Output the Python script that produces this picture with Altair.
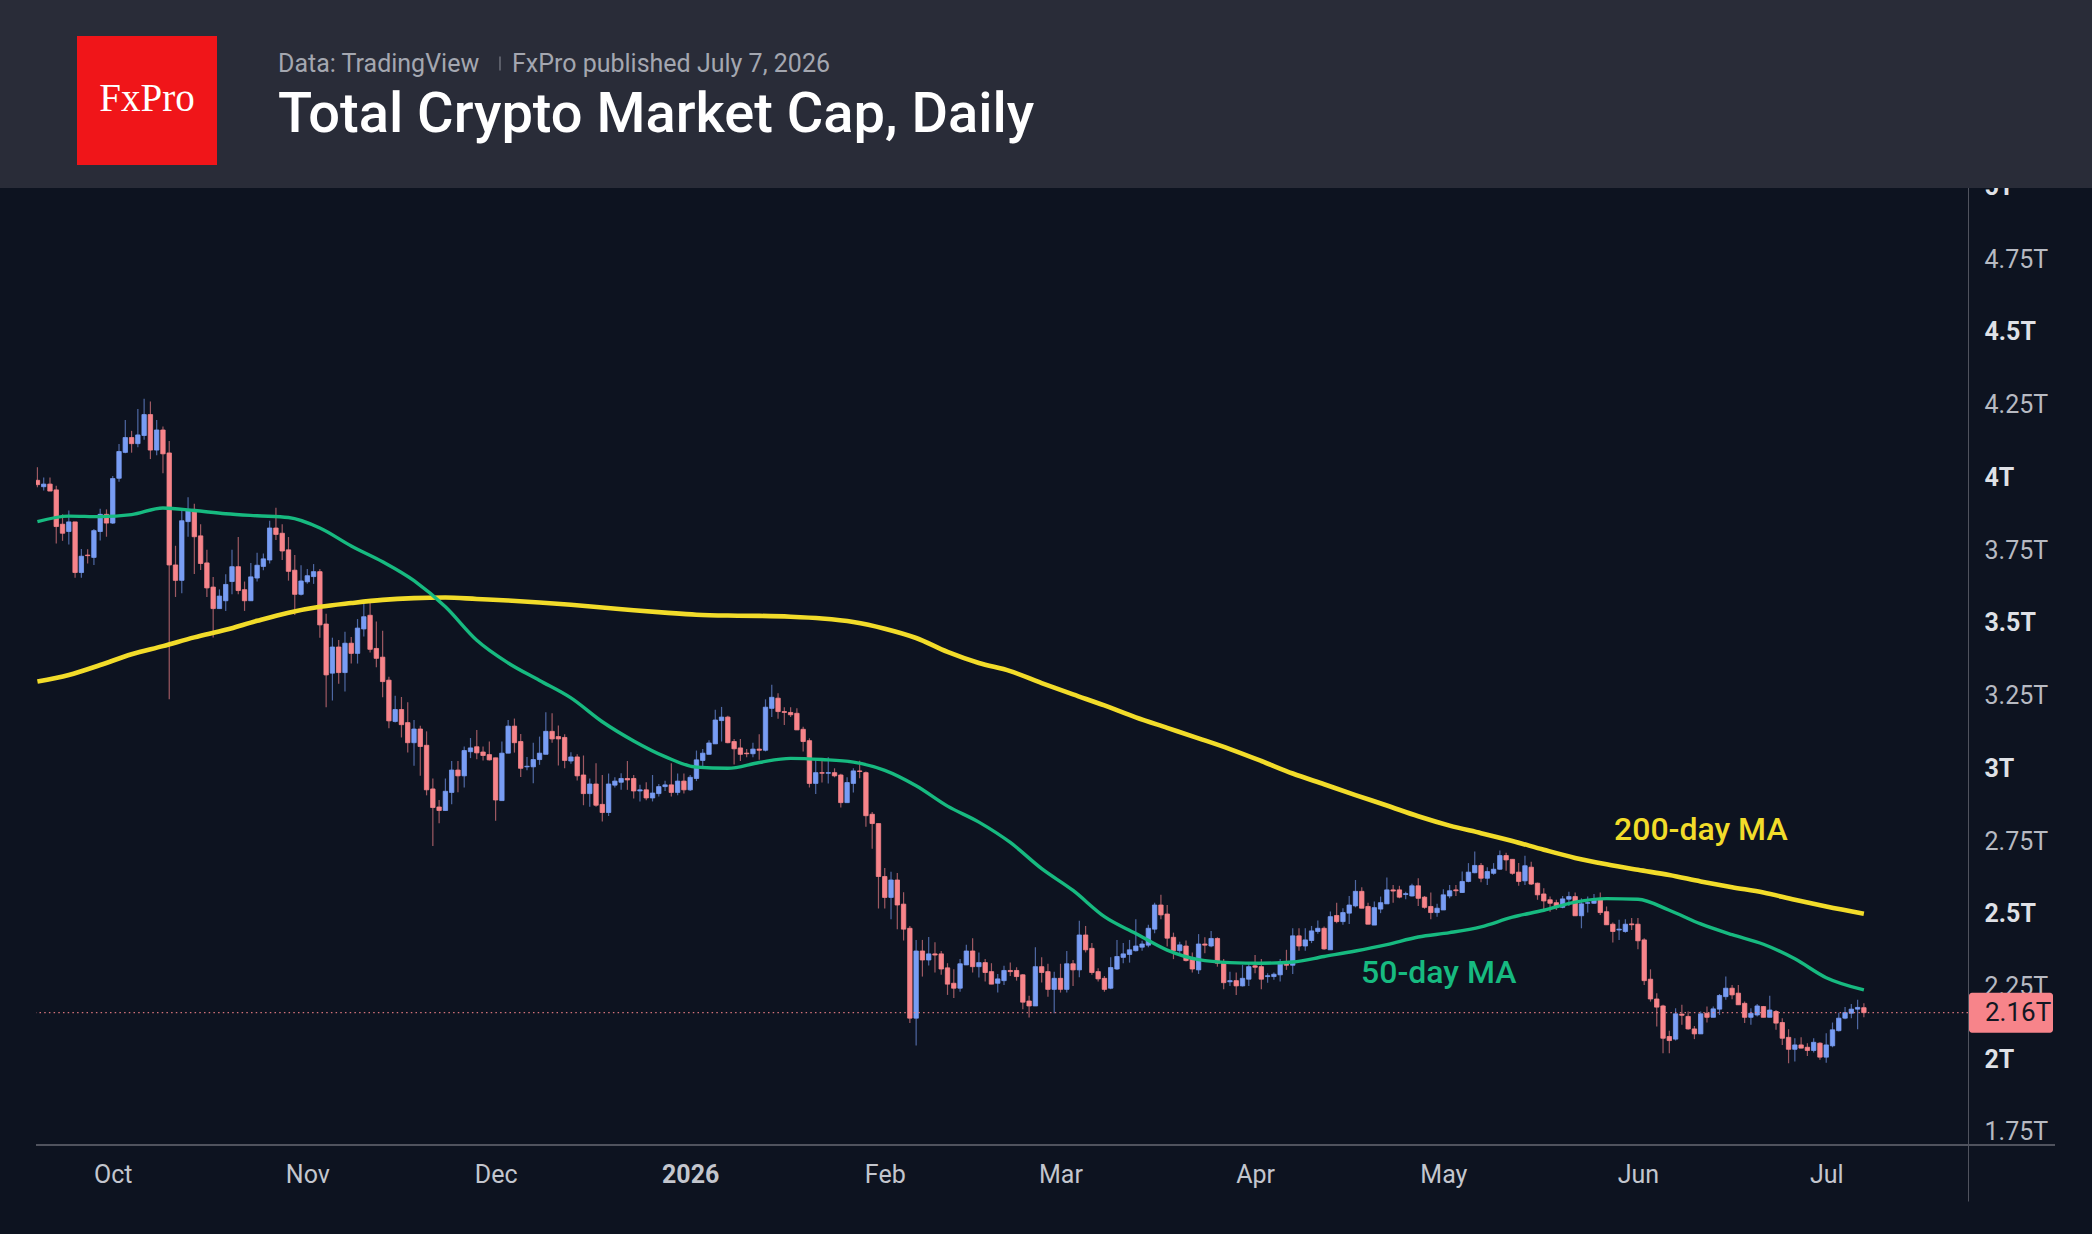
import altair as alt
import pandas as pd

# ---------------- data: total crypto market cap, daily candles (T USD) ----------------
first_day = "2025-09-19"

open_ = [
    3.990, 3.968, 3.977, 3.957, 3.839, 3.814, 3.847, 3.673, 3.733, 3.725,
    3.814, 3.873, 3.843, 3.997, 4.086, 4.137, 4.116, 4.144, 4.216, 4.094,
    4.163, 4.084, 3.699, 3.646, 3.848, 3.890, 3.799, 3.706, 3.623, 3.549,
    3.576, 3.642, 3.693, 3.614, 3.576, 3.654, 3.694, 3.716, 3.826, 3.808,
    3.751, 3.681, 3.598, 3.641, 3.659, 3.676, 3.496, 3.327, 3.417, 3.329,
    3.430, 3.395, 3.479, 3.526, 3.412, 3.382, 3.303, 3.161, 3.202, 3.157,
    3.088, 3.135, 3.079, 2.929, 2.867, 2.855, 2.917, 2.994, 2.974, 3.057,
    3.074, 3.056, 3.047, 3.036, 2.889, 3.052, 3.145, 3.092, 3.005, 3.005,
    3.030, 3.048, 3.127, 3.109, 3.106, 3.025, 3.039, 2.977, 2.913, 2.946,
    2.876, 2.848, 2.942, 2.952, 2.965, 2.965, 2.922, 2.926, 2.898, 2.913,
    2.937, 2.943, 2.917, 2.956, 2.926, 2.965, 3.027, 3.048, 3.084, 3.164,
    3.176, 3.092, 3.070, 3.052, 3.050, 3.066, 3.062, 3.206, 3.241, 3.195,
    3.192, 3.189, 3.134, 3.095, 2.948, 2.985, 2.983, 2.985, 2.977, 2.882,
    2.948, 2.991, 2.985, 2.842, 2.810, 2.628, 2.556, 2.616, 2.533, 2.450,
    2.141, 2.372, 2.341, 2.362, 2.362, 2.314, 2.261, 2.244, 2.324, 2.372,
    2.318, 2.332, 2.301, 2.261, 2.270, 2.305, 2.305, 2.290, 2.200, 2.183,
    2.318, 2.301, 2.240, 2.278, 2.240, 2.328, 2.307, 2.427, 2.381, 2.301,
    2.278, 2.244, 2.310, 2.350, 2.360, 2.373, 2.385, 2.392, 2.447, 2.530,
    2.499, 2.419, 2.373, 2.389, 2.344, 2.307, 2.396, 2.389, 2.415, 2.330,
    2.266, 2.270, 2.252, 2.275, 2.321, 2.318, 2.284, 2.284, 2.290, 2.334,
    2.323, 2.424, 2.389, 2.408, 2.439, 2.450, 2.376, 2.494, 2.473, 2.502,
    2.527, 2.577, 2.525, 2.461, 2.516, 2.534, 2.582, 2.582, 2.566, 2.561,
    2.596, 2.557, 2.525, 2.504, 2.513, 2.561, 2.582, 2.573, 2.611, 2.641,
    2.666, 2.622, 2.639, 2.653, 2.700, 2.687, 2.643, 2.613, 2.660, 2.605,
    2.568, 2.548, 2.538, 2.522, 2.550, 2.559, 2.493, 2.536, 2.536, 2.550,
    2.507, 2.464, 2.444, 2.439, 2.465, 2.464, 2.410, 2.275, 2.207, 2.183,
    2.078, 2.069, 2.155, 2.147, 2.104, 2.087, 2.158, 2.144, 2.172, 2.215,
    2.244, 2.227, 2.192, 2.144, 2.152, 2.181, 2.144, 2.164, 2.126, 2.075,
    2.034, 2.049, 2.041, 2.030, 2.055, 2.007, 2.046, 2.098, 2.141, 2.158,
    2.172, 2.177,
]
high = [
    4.035, 4.000, 4.000, 3.971, 3.873, 3.886, 3.847, 3.754, 3.753, 3.823,
    3.892, 3.890, 4.005, 4.115, 4.197, 4.160, 4.235, 4.270, 4.261, 4.197,
    4.175, 4.125, 3.765, 3.886, 3.932, 3.909, 3.839, 3.751, 3.658, 3.615,
    3.667, 3.751, 3.795, 3.642, 3.706, 3.741, 3.738, 3.851, 3.896, 3.839,
    3.795, 3.733, 3.698, 3.685, 3.702, 3.685, 3.531, 3.449, 3.441, 3.469,
    3.451, 3.513, 3.569, 3.581, 3.505, 3.473, 3.315, 3.249, 3.245, 3.227,
    3.166, 3.146, 3.127, 2.965, 2.891, 2.965, 3.025, 3.025, 3.075, 3.104,
    3.132, 3.075, 3.092, 3.036, 3.092, 3.166, 3.171, 3.118, 3.039, 3.088,
    3.109, 3.193, 3.189, 3.147, 3.117, 3.055, 3.048, 3.044, 2.965, 3.017,
    2.977, 2.982, 2.969, 2.983, 3.025, 2.977, 2.943, 2.952, 2.977, 2.946,
    2.957, 3.017, 2.982, 2.982, 2.977, 3.061, 3.066, 3.096, 3.201, 3.211,
    3.181, 3.101, 3.101, 3.066, 3.088, 3.117, 3.237, 3.287, 3.258, 3.210,
    3.210, 3.206, 3.143, 3.103, 3.029, 3.026, 3.038, 3.000, 2.981, 2.969,
    3.000, 3.026, 2.989, 2.850, 2.810, 2.657, 2.644, 2.640, 2.574, 2.458,
    2.410, 2.410, 2.420, 2.402, 2.372, 2.330, 2.309, 2.344, 2.393, 2.416,
    2.367, 2.344, 2.330, 2.293, 2.321, 2.332, 2.316, 2.293, 2.218, 2.385,
    2.350, 2.328, 2.301, 2.328, 2.372, 2.341, 2.476, 2.458, 2.399, 2.313,
    2.286, 2.350, 2.410, 2.399, 2.410, 2.481, 2.407, 2.462, 2.538, 2.565,
    2.530, 2.435, 2.404, 2.408, 2.367, 2.430, 2.419, 2.441, 2.419, 2.344,
    2.301, 2.298, 2.324, 2.332, 2.358, 2.344, 2.295, 2.298, 2.344, 2.376,
    2.450, 2.450, 2.450, 2.458, 2.477, 2.456, 2.508, 2.538, 2.519, 2.561,
    2.616, 2.591, 2.538, 2.542, 2.559, 2.625, 2.599, 2.596, 2.576, 2.603,
    2.622, 2.561, 2.573, 2.534, 2.584, 2.599, 2.599, 2.645, 2.674, 2.714,
    2.674, 2.660, 2.674, 2.717, 2.710, 2.687, 2.674, 2.699, 2.679, 2.607,
    2.588, 2.559, 2.548, 2.561, 2.576, 2.573, 2.553, 2.559, 2.568, 2.573,
    2.525, 2.470, 2.479, 2.481, 2.485, 2.485, 2.416, 2.309, 2.227, 2.187,
    2.098, 2.175, 2.187, 2.164, 2.114, 2.164, 2.181, 2.181, 2.224, 2.284,
    2.255, 2.255, 2.198, 2.175, 2.190, 2.183, 2.218, 2.169, 2.141, 2.103,
    2.072, 2.075, 2.055, 2.072, 2.058, 2.089, 2.126, 2.160, 2.179, 2.190,
    2.204, 2.192,
]
low = [
    3.966, 3.955, 3.953, 3.773, 3.782, 3.769, 3.655, 3.655, 3.704, 3.699,
    3.783, 3.796, 3.840, 3.985, 4.083, 4.085, 4.104, 4.129, 4.063, 4.076,
    4.014, 3.237, 3.589, 3.602, 3.796, 3.668, 3.682, 3.589, 3.450, 3.549,
    3.541, 3.598, 3.598, 3.541, 3.576, 3.642, 3.681, 3.704, 3.785, 3.716,
    3.645, 3.527, 3.594, 3.634, 3.634, 3.449, 3.210, 3.233, 3.291, 3.264,
    3.360, 3.360, 3.453, 3.398, 3.347, 3.244, 3.138, 3.157, 3.106, 3.054,
    3.009, 2.974, 2.907, 2.733, 2.811, 2.855, 2.876, 2.918, 2.934, 3.035,
    3.031, 3.027, 3.027, 2.820, 2.889, 3.052, 3.054, 2.970, 2.993, 2.949,
    3.012, 3.048, 3.088, 3.010, 3.000, 3.016, 2.958, 2.873, 2.868, 2.868,
    2.817, 2.836, 2.934, 2.926, 2.926, 2.896, 2.886, 2.890, 2.886, 2.903,
    2.922, 2.903, 2.907, 2.913, 2.922, 2.956, 3.004, 3.048, 3.084, 3.092,
    3.086, 3.013, 3.025, 3.038, 3.038, 3.029, 3.058, 3.176, 3.170, 3.149,
    3.176, 3.132, 3.058, 2.934, 2.912, 2.951, 2.948, 2.969, 2.865, 2.882,
    2.917, 2.966, 2.799, 2.723, 2.518, 2.518, 2.481, 2.447, 2.408, 2.124,
    2.047, 2.284, 2.322, 2.298, 2.290, 2.221, 2.210, 2.232, 2.324, 2.298,
    2.281, 2.267, 2.258, 2.229, 2.255, 2.286, 2.270, 2.172, 2.143, 2.183,
    2.264, 2.215, 2.158, 2.229, 2.229, 2.252, 2.282, 2.367, 2.290, 2.267,
    2.232, 2.240, 2.307, 2.330, 2.332, 2.370, 2.373, 2.385, 2.433, 2.481,
    2.387, 2.344, 2.364, 2.336, 2.298, 2.293, 2.364, 2.385, 2.318, 2.240,
    2.252, 2.221, 2.250, 2.252, 2.295, 2.240, 2.263, 2.273, 2.267, 2.307,
    2.293, 2.373, 2.373, 2.399, 2.431, 2.376, 2.376, 2.467, 2.462, 2.465,
    2.522, 2.519, 2.464, 2.461, 2.502, 2.534, 2.538, 2.553, 2.550, 2.559,
    2.527, 2.517, 2.481, 2.490, 2.513, 2.553, 2.561, 2.571, 2.608, 2.639,
    2.608, 2.599, 2.634, 2.651, 2.648, 2.634, 2.596, 2.599, 2.599, 2.548,
    2.513, 2.507, 2.513, 2.519, 2.527, 2.493, 2.450, 2.504, 2.534, 2.496,
    2.462, 2.401, 2.410, 2.435, 2.444, 2.378, 2.255, 2.198, 2.112, 2.020,
    2.020, 2.064, 2.118, 2.101, 2.069, 2.087, 2.126, 2.144, 2.152, 2.204,
    2.206, 2.187, 2.124, 2.118, 2.147, 2.144, 2.144, 2.101, 2.049, 1.986,
    1.992, 2.038, 2.011, 2.023, 1.998, 1.988, 2.041, 2.095, 2.137, 2.141,
    2.103, 2.144,
]
close = [
    3.975, 3.977, 3.953, 3.831, 3.808, 3.847, 3.673, 3.729, 3.731, 3.817,
    3.873, 3.843, 3.996, 4.089, 4.137, 4.116, 4.146, 4.216, 4.094, 4.163,
    4.081, 3.699, 3.646, 3.851, 3.890, 3.796, 3.704, 3.620, 3.549, 3.592,
    3.632, 3.693, 3.611, 3.576, 3.658, 3.698, 3.720, 3.826, 3.804, 3.747,
    3.677, 3.598, 3.644, 3.662, 3.676, 3.493, 3.321, 3.417, 3.329, 3.430,
    3.395, 3.482, 3.521, 3.409, 3.378, 3.298, 3.163, 3.202, 3.150, 3.088,
    3.135, 3.075, 2.926, 2.865, 2.855, 2.921, 2.994, 2.974, 3.061, 3.070,
    3.053, 3.044, 3.029, 2.891, 3.052, 3.145, 3.088, 3.000, 3.007, 3.030,
    3.052, 3.127, 3.101, 3.101, 3.027, 3.039, 2.974, 2.913, 2.946, 2.873,
    2.848, 2.946, 2.956, 2.965, 2.960, 2.922, 2.926, 2.898, 2.915, 2.937,
    2.943, 2.917, 2.956, 2.926, 2.969, 3.029, 3.052, 3.087, 3.166, 3.176,
    3.088, 3.067, 3.048, 3.050, 3.066, 3.062, 3.210, 3.244, 3.195, 3.192,
    3.184, 3.132, 3.092, 2.948, 2.985, 2.983, 2.985, 2.974, 2.882, 2.951,
    2.991, 2.989, 2.837, 2.810, 2.628, 2.556, 2.616, 2.530, 2.447, 2.141,
    2.372, 2.341, 2.362, 2.358, 2.310, 2.258, 2.244, 2.328, 2.372, 2.318,
    2.332, 2.298, 2.258, 2.276, 2.305, 2.301, 2.284, 2.196, 2.183, 2.318,
    2.298, 2.240, 2.278, 2.240, 2.328, 2.307, 2.427, 2.376, 2.298, 2.276,
    2.240, 2.315, 2.353, 2.362, 2.376, 2.389, 2.396, 2.450, 2.530, 2.496,
    2.416, 2.373, 2.393, 2.339, 2.310, 2.396, 2.392, 2.415, 2.330, 2.263,
    2.270, 2.252, 2.278, 2.318, 2.316, 2.275, 2.287, 2.292, 2.334, 2.323,
    2.424, 2.389, 2.410, 2.441, 2.450, 2.379, 2.490, 2.473, 2.504, 2.530,
    2.577, 2.519, 2.464, 2.521, 2.538, 2.582, 2.578, 2.557, 2.569, 2.596,
    2.553, 2.522, 2.504, 2.519, 2.565, 2.579, 2.579, 2.611, 2.643, 2.666,
    2.622, 2.645, 2.653, 2.700, 2.685, 2.639, 2.611, 2.665, 2.602, 2.565,
    2.544, 2.536, 2.522, 2.551, 2.559, 2.493, 2.534, 2.538, 2.550, 2.504,
    2.462, 2.439, 2.447, 2.464, 2.462, 2.407, 2.270, 2.207, 2.179, 2.072,
    2.064, 2.156, 2.151, 2.104, 2.087, 2.156, 2.144, 2.173, 2.219, 2.244,
    2.221, 2.187, 2.144, 2.158, 2.183, 2.144, 2.169, 2.124, 2.072, 2.034,
    2.049, 2.038, 2.030, 2.058, 2.007, 2.049, 2.101, 2.141, 2.160, 2.172,
    2.178, 2.160,
]

# moving averages (T USD)
ma_dates = [
    "2025-09-19", "2025-09-24", "2025-09-29", "2025-10-04", "2025-10-09",
    "2025-10-14", "2025-10-19", "2025-10-24", "2025-10-29", "2025-11-03",
    "2025-11-08", "2025-11-13", "2025-11-18", "2025-11-23", "2025-11-28",
    "2025-12-03", "2025-12-08", "2025-12-13", "2025-12-18", "2025-12-23",
    "2025-12-28", "2026-01-02", "2026-01-07", "2026-01-12", "2026-01-17",
    "2026-01-22", "2026-01-27", "2026-02-01", "2026-02-06", "2026-02-11",
    "2026-02-16", "2026-02-21", "2026-02-26", "2026-03-03", "2026-03-08",
    "2026-03-13", "2026-03-18", "2026-03-23", "2026-03-28", "2026-04-02",
    "2026-04-07", "2026-04-12", "2026-04-17", "2026-04-22", "2026-04-27",
    "2026-05-02", "2026-05-07", "2026-05-12", "2026-05-17", "2026-05-22",
    "2026-05-27", "2026-06-01", "2026-06-06", "2026-06-11", "2026-06-16",
    "2026-06-21", "2026-06-26", "2026-07-01", "2026-07-07",
]
ma200 = [
    3.298, 3.321, 3.355, 3.392, 3.420, 3.450, 3.476, 3.507, 3.535, 3.555,
    3.568, 3.579, 3.585, 3.587, 3.582, 3.577, 3.570, 3.562, 3.553, 3.543,
    3.535, 3.528, 3.525, 3.524, 3.521, 3.515, 3.503, 3.480, 3.448, 3.400,
    3.362, 3.334, 3.293, 3.254, 3.216, 3.175, 3.139, 3.103, 3.066, 3.025,
    2.982, 2.945, 2.908, 2.872, 2.835, 2.803, 2.777, 2.750, 2.720, 2.692,
    2.670, 2.651, 2.633, 2.611, 2.591, 2.573, 2.548, 2.525, 2.500,
]
ma50 = [
    3.848, 3.867, 3.865, 3.872, 3.895, 3.886, 3.875, 3.868, 3.862, 3.826,
    3.764, 3.710, 3.645, 3.555, 3.440, 3.362, 3.302, 3.242, 3.160, 3.094,
    3.040, 3.004, 3.000, 3.020, 3.034, 3.030, 3.021, 2.993, 2.940, 2.870,
    2.815, 2.745, 2.655, 2.580, 2.490, 2.432, 2.375, 2.342, 2.332, 2.330,
    2.334, 2.353, 2.372, 2.394, 2.420, 2.435, 2.455, 2.488, 2.512, 2.540,
    2.552, 2.550, 2.512, 2.465, 2.428, 2.395, 2.345, 2.280, 2.238,
]

y_ticks = [1.75, 2.0, 2.25, 2.5, 2.75, 3.0, 3.25, 3.5, 3.75, 4.0, 4.25, 4.5, 4.75, 5.0]
month_starts = [(2025, 10), (2025, 11), (2025, 12), (2026, 1), (2026, 2),
                (2026, 3), (2026, 4), (2026, 5), (2026, 6), (2026, 7)]

# ---------------- styling ----------------
BG = "#0d1320"
HEADER_BG = "#292c38"
UP = "#789df4"
DOWN = "#f7848a"
MA200_COLOR = "#f2dc2a"
MA50_COLOR = "#17ba80"
AXIS_LINE = "#50535e"
FONT = "Roboto"

W, H = 1932, 958.5          # plot area
PAD_L, PAD_T = 36, 186.5

dates = pd.date_range(first_day, periods=len(close), freq="D").strftime("%Y-%m-%d")
candles = pd.DataFrame({"date": dates, "open": open_, "high": high,
                        "low": low, "close": close})
candles["dir"] = ["up" if c >= o else "down" for o, c in zip(open_, close)]

ma = pd.DataFrame({"date": ma_dates, "ma200": ma200, "ma50": ma50})
last = pd.DataFrame({"v": [close[-1]], "label": [f"{close[-1]:.2f}T"]})
one = pd.DataFrame({"k": [0]})

x_scale = alt.Scale(
    type="utc",
    domain=[alt.DateTime(year=2025, month=9, date=19, hours=13, minutes=40, utc=True),
            alt.DateTime(year=2026, month=7, date=22, hours=19, minutes=0, utc=True)],
)
y_scale = alt.Scale(domain=[1.705, 5.0], zero=False, nice=False)
dir_scale = alt.Scale(domain=["up", "down"], range=[UP, DOWN])

half_step = "datum.value * 2 == round(datum.value * 2)"
x_axis = alt.Axis(
    values=[alt.DateTime(year=y, month=m, date=1, utc=True) for y, m in month_starts],
    labelExpr="utcmonth(datum.value) == 0 ? utcFormat(datum.value, '%Y') : utcFormat(datum.value, '%b')",
    labelFont=FONT, labelFontSize=25, labelColor="#c3c6ce",
    labelFontWeight={"condition": {"test": "utcmonth(datum.value) == 0", "value": "bold"},
                     "value": "normal"},
    labelBaseline="middle", labelPadding=29, labelOverlap=False,
    domain=False, ticks=False, grid=False, title=None,
)
y_axis = alt.Axis(
    orient="right", values=y_ticks,
    labelExpr="datum.value + 'T'",
    labelFont=FONT, labelFontSize=25, labelAlign="left", labelBaseline="middle",
    labelPadding=16, labelOverlap=False,
    labelColor={"condition": {"test": half_step, "value": "#dfe1e6"}, "value": "#b7bac2"},
    labelFontWeight={"condition": {"test": half_step, "value": "bold"}, "value": "normal"},
    domain=False, ticks=False, grid=False, title=None,
)

X = alt.X("date:T", scale=x_scale, axis=x_axis)


def Y(field):
    return alt.Y(field, scale=y_scale, axis=y_axis)


# candle wicks and bodies
wicks = alt.Chart(candles).mark_rule(strokeWidth=1.2, opacity=0.62, clip=True).encode(
    x=X, y=Y("low:Q"), y2="high:Q",
    color=alt.Color("dir:N", scale=dir_scale, legend=None),
)
bodies = alt.Chart(candles).mark_bar(size=4.4, strokeWidth=0.8, clip=True).encode(
    x=X, y=Y("open:Q"), y2="close:Q",
    color=alt.Color("dir:N", scale=dir_scale, legend=None),
    stroke=alt.Color("dir:N", scale=dir_scale, legend=None),
)

# moving averages
line200 = alt.Chart(ma).mark_line(color=MA200_COLOR, strokeWidth=4.6, interpolate="monotone",
                                  clip=True).encode(x=X, y=Y("ma200:Q"))
line50 = alt.Chart(ma).mark_line(color=MA50_COLOR, strokeWidth=3.4, interpolate="monotone",
                                 clip=True).encode(x=X, y=Y("ma50:Q"))

label200 = alt.Chart(one).mark_text(text="200-day MA", font=FONT, fontSize=32, fontWeight=500,
                                    color=MA200_COLOR, align="left", baseline="alphabetic").encode(
    x=alt.value(1578), y=alt.value(653.5))
label50 = alt.Chart(one).mark_text(text="50-day MA", font=FONT, fontSize=32, fontWeight=500,
                                   color=MA50_COLOR, align="left", baseline="alphabetic").encode(
    x=alt.value(1325), y=alt.value(796))

# last price line and tag
price_line = alt.Chart(last).mark_rule(color=DOWN, strokeWidth=1.3, strokeDash=[1.5, 3.2],
                                       opacity=0.85).encode(y=Y("v:Q"))
price_tag = alt.Chart(last).mark_rect(color=DOWN, cornerRadius=3, yOffset=-20, y2Offset=20).encode(
    x=alt.value(W + 1), x2=alt.value(W + 85), y=Y("v:Q"), y2="v:Q")
price_text = alt.Chart(last).mark_text(font=FONT, fontSize=26, color="#131722", align="left",
                                       baseline="middle").encode(
    x=alt.value(W + 17), y=Y("v:Q"), text="label:N")

# frame lines
right_line = alt.Chart(one).mark_rule(color=AXIS_LINE, strokeWidth=1).encode(
    x=alt.value(W + 0.5), y=alt.value(0), y2=alt.value(1015))
bottom_line = alt.Chart(one).mark_rule(color=AXIS_LINE, strokeWidth=2).encode(
    x=alt.value(0), x2=alt.value(2019), y=alt.value(H))

# header band
header = alt.Chart(one).mark_rect(color=HEADER_BG).encode(
    x=alt.value(-PAD_L), x2=alt.value(2092 - PAD_L), y=alt.value(-PAD_T), y2=alt.value(1.5))
logo = alt.Chart(one).mark_rect(color="#f01519").encode(
    x=alt.value(41), x2=alt.value(181), y=alt.value(-150.5), y2=alt.value(-21.5))
logo_text = alt.Chart(one).mark_text(text="FxPro", font="Liberation Serif", fontSize=39,
                                     color="white", align="center", baseline="alphabetic").encode(
    x=alt.value(111), y=alt.value(-76))
source_text = alt.Chart(one).mark_text(text="Data: TradingView", font=FONT, fontSize=25,
                                       color="#a4a7b0", align="left", baseline="alphabetic").encode(
    x=alt.value(242), y=alt.value(-114.5))
sep = alt.Chart(one).mark_rule(color="#7d808a", strokeWidth=1.2).encode(
    x=alt.value(464), y=alt.value(-130), y2=alt.value(-116))
pub_text = alt.Chart(one).mark_text(text="FxPro published July 7, 2026", font=FONT, fontSize=25,
                                    color="#a4a7b0", align="left", baseline="alphabetic").encode(
    x=alt.value(476), y=alt.value(-114.5))
title_text = alt.Chart(one).mark_text(text="Total Crypto Market Cap, Daily", font=FONT,
                                      fontSize=56, fontWeight=500, color="white", align="left",
                                      baseline="alphabetic").encode(
    x=alt.value(242), y=alt.value(-54.5))

chart = alt.layer(
    wicks, bodies, line200, line50, price_line, label200, label50,
    right_line, bottom_line, price_tag, price_text,
    header, logo, logo_text, source_text, sep, pub_text, title_text,
).properties(
    width=W, height=H,
    autosize=alt.AutoSizeParams(type="none"),
    padding={"left": PAD_L, "top": PAD_T, "right": 2092 - PAD_L - W, "bottom": 1234 - PAD_T - H},
    background=BG,
).configure_view(strokeWidth=0)

chart.save("out.html", embed_options={"renderer": "svg", "actions": False})
